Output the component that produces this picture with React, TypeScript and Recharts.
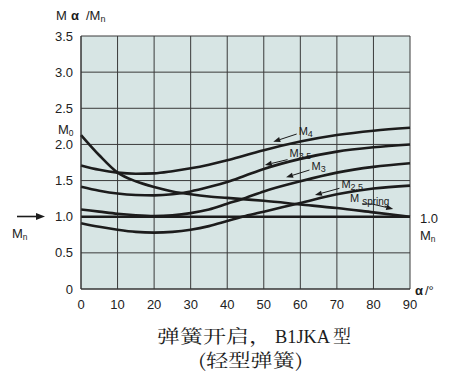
import React from 'react'
import { CartesianGrid, Line, LineChart, ReferenceLine, XAxis, YAxis } from 'recharts'

// angle α in degrees
const angles = [0, 5, 10, 15, 20, 25, 30, 35, 40, 45, 50, 60, 70, 80, 90]

// torque ratios M/Mn
const m4 = [1.71, 1.65, 1.61, 1.595, 1.6, 1.63, 1.67, 1.72, 1.78, 1.85, 1.92, 2.04, 2.13, 2.19, 2.23]
const m35 = [1.415, 1.36, 1.32, 1.3, 1.295, 1.31, 1.35, 1.41, 1.48, 1.57, 1.66, 1.8, 1.9, 1.96, 2.0]
const m3 = [1.1, 1.07, 1.04, 1.02, 1.01, 1.02, 1.05, 1.1, 1.18, 1.26, 1.35, 1.49, 1.61, 1.69, 1.74]
const m25 = [0.91, 0.86, 0.82, 0.79, 0.78, 0.79, 0.82, 0.87, 0.94, 1.01, 1.07, 1.19, 1.31, 1.39, 1.43]
const mSpring = [2.13, 1.85, 1.61, 1.49, 1.41, 1.35, 1.31, 1.28, 1.26, 1.24, 1.22, 1.17, 1.12, 1.06, 1.0]
const nominal = 1.0

const xTicks = [0, 10, 20, 30, 40, 50, 60, 70, 80, 90]
const yTicks = [0, 0.5, 1.0, 1.5, 2.0, 2.5, 3.0, 3.5]

// arrow callouts: tail -> tip, in chart units
const callouts = [
	{ sub: '4', from: { x: 59.0, y: 2.144 }, to: { x: 52.6, y: 2.037 } },
	{ sub: '3.5', from: { x: 56.5, y: 1.79 }, to: { x: 50.3, y: 1.715 } },
	{ sub: '3', from: { x: 62.5, y: 1.646 }, to: { x: 56.1, y: 1.545 } },
	{ sub: '2.5', from: { x: 70.7, y: 1.393 }, to: { x: 64.0, y: 1.3 } },
]
const springCallout = { from: { x: 79.6, y: 1.176 }, to: { x: 85.4, y: 1.107 } }

const data = angles.map((angle, i) => ({
	angle,
	m4: m4[i],
	m35: m35[i],
	m3: m3[i],
	m25: m25[i],
	spring: mSpring[i],
}))

const INK = '#1c1c1c'
const SANS = '"Liberation Sans", Arial, sans-serif'
const CJK = '"Noto Serif CJK SC", "Noto Sans CJK SC", "Liberation Serif", serif'
const SERIF = '"Liberation Serif", serif'

// label baseline nudges per callout (px)
const labelDy: Record<string, number> = { '4': 1, '3.5': -3, '3': 0, '2.5': 0 }

const arrowHead = (x1: number, y1: number, x2: number, y2: number, len = 7, half = 2.6) => {
	const a = Math.atan2(y2 - y1, x2 - x1)
	const bx = x2 - len * Math.cos(a)
	const by = y2 - len * Math.sin(a)
	const px = -Math.sin(a) * half
	const py = Math.cos(a) * half
	return { bx, by, points: `${x2},${y2} ${bx + px},${by + py} ${bx - px},${by - py}` }
}

const calloutShape = (sub: string) => (props: any) => {
	const { x1, y1, x2, y2 } = props
	const h = arrowHead(x1, y1, x2, y2)
	return (
		<g>
			<line x1={x1} y1={y1} x2={h.bx} y2={h.by} stroke={INK} strokeWidth={1} />
			<polygon points={h.points} fill={INK} />
			<text x={x1 + 2} y={y1 + labelDy[sub]} fontSize={11} fontFamily={SANS} fill={INK}>
				M<tspan fontSize={9} dy={2}>{sub}</tspan>
			</text>
		</g>
	)
}

const springShape = (props: any) => {
	const { x1, y1, x2, y2 } = props
	const h = arrowHead(x1, y1, x2, y2)
	return (
		<g>
			<line x1={x1 - 10} y1={y1} x2={x1} y2={y1} stroke={INK} strokeWidth={1} />
			<line x1={x1} y1={y1} x2={h.bx} y2={h.by} stroke={INK} strokeWidth={1} />
			<polygon points={h.points} fill={INK} />
			<text x={x1 - 22} y={y1 - 2} fontSize={11} fontFamily={SANS} fill={INK}>
				M<tspan fontSize={10} dx={3} dy={3}>spring</tspan>
			</text>
		</g>
	)
}

const Sub = ({ x, y, main, sub, size = 13 }: { x: number; y: number; main: string; sub: string; size?: number }) => (
	<text x={x} y={y} fontSize={size} fontFamily={SANS} fill={INK}>
		{main}
		<tspan fontSize={size * 0.65} dy={2}>{sub}</tspan>
	</text>
)

const App = () => {
	return (
		<div style={{ position: 'absolute', left: 0, top: 0, width: 454, height: 378, background: '#fff' }}>
			<LineChart width={454} height={378} data={data} margin={{ top: 36, right: 44, left: 0, bottom: 59 }}>
				<CartesianGrid fill='#d7e5e4' stroke='#3a3a3a' strokeWidth={1} />
				<XAxis
					dataKey='angle'
					type='number'
					domain={[0, 90]}
					ticks={xTicks}
					height={30}
					tickLine={false}
					tickMargin={5}
					axisLine={{ stroke: '#333' }}
					tick={{ fontSize: 13, fill: '#222', fontFamily: SANS }}
				/>
				<YAxis
					type='number'
					domain={[0, 3.5]}
					ticks={yTicks}
					width={81}
					tickLine={false}
					axisLine={{ stroke: '#333' }}
					tick={{ fontSize: 13, fill: '#222', fontFamily: SANS }}
					tickFormatter={(v: number) => (v === 0 ? '0' : v.toFixed(1))}
				/>
				<ReferenceLine y={nominal} stroke={INK} strokeWidth={2.6} />
				<Line type='monotone' dataKey='spring' stroke={INK} strokeWidth={2.6} dot={false} isAnimationActive={false} />
				<Line type='monotone' dataKey='m25' stroke={INK} strokeWidth={2.6} dot={false} isAnimationActive={false} />
				<Line type='monotone' dataKey='m3' stroke={INK} strokeWidth={2.6} dot={false} isAnimationActive={false} />
				<Line type='monotone' dataKey='m35' stroke={INK} strokeWidth={2.6} dot={false} isAnimationActive={false} />
				<Line type='monotone' dataKey='m4' stroke={INK} strokeWidth={2.6} dot={false} isAnimationActive={false} />
				{callouts.map((c) => (
					<ReferenceLine key={c.sub} segment={[c.from, c.to]} shape={calloutShape(c.sub)} />
				))}
				<ReferenceLine segment={[springCallout.from, springCallout.to]} shape={springShape} />
			</LineChart>
			<svg width={454} height={378} style={{ position: 'absolute', left: 0, top: 0, pointerEvents: 'none' }}>
				<text x={56} y={20} fontSize={13} fontFamily={SANS} fill={INK}>
					M<tspan x={71} fontWeight='bold'>α</tspan>
					<tspan x={86}>/M</tspan>
					<tspan fontSize={9} dy={2}>n</tspan>
				</text>
				<Sub x={58} y={134} main='M' sub='0' />
				<line x1={17} y1={216.5} x2={37} y2={216.5} stroke={INK} strokeWidth={1.6} />
				<polygon points='45,216.5 36,213 36,220' fill={INK} />
				<Sub x={12} y={238} main='M' sub='n' />
				<text x={420} y={223} fontSize={13} fontFamily={SANS} fill={INK}>1.0</text>
				<Sub x={420} y={240} main='M' sub='n' />
				<text x={415} y={295} fontSize={13} fontFamily={SANS} fill={INK}>
					<tspan fontWeight='bold'>α</tspan>
					<tspan dx={2}>/°</tspan>
				</text>
				<text x={157} y={343} fontSize={18} textLength={115} lengthAdjust='spacingAndGlyphs' fontFamily={CJK} fill={INK}>
					弹簧开启，
				</text>
				<text x={275} y={343} fontSize={18} textLength={55} lengthAdjust='spacingAndGlyphs' fontFamily={SERIF} fill={INK}>
					B1JKA
				</text>
				<text x={333} y={343} fontSize={18} fontFamily={CJK} fill={INK}>
					型
				</text>
				<text x={198} y={367} fontSize={18} textLength={105} lengthAdjust='spacingAndGlyphs' fontFamily={CJK} fill={INK}>
					(轻型弹簧)
				</text>
			</svg>
		</div>
	)
}

export default App
